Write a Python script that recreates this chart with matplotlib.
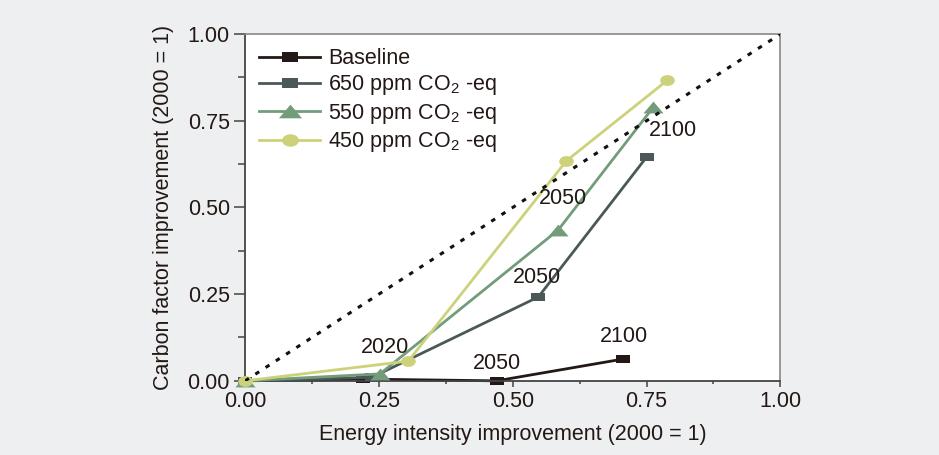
import matplotlib
matplotlib.use("Agg")
import matplotlib.pyplot as plt
import numpy as np
from matplotlib.ticker import MultipleLocator

plt.rcParams['font.family'] = ['Liberation Sans', 'DejaVu Sans']
plt.rcParams['mathtext.fontset'] = 'custom'
plt.rcParams['mathtext.rm'] = 'Liberation Sans'
plt.rcParams['mathtext.it'] = 'Liberation Sans'

series_names = ["Baseline", "650 ppm CO$_2$ -eq", "550 ppm CO$_2$ -eq", "450 ppm CO$_2$ -eq"]
baseline_x = [0.0, 0.22, 0.47, 0.707]
baseline_y = [0.0, 0.005, 0.0, 0.063]
ppm650_x = [0.0, 0.237, 0.548, 0.75]
ppm650_y = [0.0, 0.01, 0.242, 0.645]
ppm550_x = [0.0, 0.252, 0.585, 0.763]
ppm550_y = [0.0, 0.02, 0.435, 0.79]
ppm450_x = [0.0, 0.305, 0.60, 0.789]
ppm450_y = [0.0, 0.057, 0.634, 0.867]

colors = ["#231815", "#4a5857", "#729c7a", "#cdd27a"]

year_labels = ["2020", "2050", "2100", "2050", "2050", "2100"]
year_label_x = [0.261, 0.471, 0.707, 0.546, 0.594, 0.80]
year_label_y = [0.095, 0.05, 0.127, 0.297, 0.527, 0.723]

ticks = [0.0, 0.25, 0.5, 0.75, 1.0]
tick_labels = ["0.00", "0.25", "0.50", "0.75", "1.00"]

# wide (flattened) marker shapes as in the reference
rect_marker = [(-1.6, -1.0), (1.6, -1.0), (1.6, 1.0), (-1.6, 1.0), (-1.6, -1.0)]
tri_marker = [(-1.7, -1.0), (1.7, -1.0), (0.0, 1.0), (-1.7, -1.0)]
_t = np.linspace(0, 2 * np.pi, 41)
ell_marker = list(zip(1.35 * np.cos(_t), np.sin(_t)))
markers = [rect_marker, rect_marker, tri_marker, ell_marker]
msizes = [10, 10, 14.5, 10.5]

FS = 15.5

fig = plt.figure(figsize=(9.39, 4.55), dpi=100)
fig.patch.set_facecolor("#eeeff1")
ax = fig.add_axes([0.261, 0.163, 0.57, 0.762])
ax.set_facecolor("white")

ax.plot([0, 1], [0, 1], linestyle=(0, (1.5, 2.5)), color="#111111", lw=2.2, zorder=10)

data = [(baseline_x, baseline_y), (ppm650_x, ppm650_y), (ppm550_x, ppm550_y), (ppm450_x, ppm450_y)]
handles = {}
for i in range(4):
    xs, ys = data[i]
    h, = ax.plot(xs, ys, color=colors[i], marker=markers[i], markersize=msizes[i], lw=2,
                 markeredgewidth=0, label=series_names[i], zorder=2 + i, clip_on=False)
    handles[i] = h

for t, x, y in zip(year_labels, year_label_x, year_label_y):
    ax.text(x, y, t, ha="center", va="center", fontsize=FS, color="#231815", zorder=12)

ax.set_xlim(0, 1)
ax.set_ylim(0, 1)
ax.set_xticks(ticks)
ax.set_xticklabels(tick_labels)
ax.set_yticks(ticks)
ax.set_yticklabels(tick_labels)
ax.xaxis.set_minor_locator(MultipleLocator(0.125))
ax.yaxis.set_minor_locator(MultipleLocator(0.125))
ax.tick_params(axis="x", which="major", direction="out", length=4, width=1.1, color="#444444", pad=3)
ax.tick_params(axis="x", which="minor", direction="out", length=2.5, width=1.1, color="#444444")
ax.tick_params(axis="y", which="major", direction="out", length=8, width=1.1, color="#444444", pad=3)
ax.tick_params(axis="y", which="minor", direction="out", length=5, width=1.1, color="#444444")
ax.tick_params(which="both", labelsize=FS, labelcolor="#231815")
for s in ["left", "bottom"]:
    ax.spines[s].set_color("#444444")
    ax.spines[s].set_linewidth(1.3)
for s in ["top", "right"]:
    ax.spines[s].set_color("#888888")
    ax.spines[s].set_linewidth(1.2)

ax.set_xlabel("Energy intensity improvement (2000 = 1)", fontsize=FS, color="#231815", labelpad=9)
ax.set_ylabel("Carbon factor improvement (2000 = 1)", fontsize=FS, color="#231815", labelpad=10)

leg = ax.legend([handles[i] for i in range(4)], series_names, loc="upper left", frameon=False,
                fontsize=FS, handlelength=2.85, labelspacing=0.2, borderaxespad=0.35,
                handletextpad=0.35, borderpad=0.3, markerscale=1.15)
leg.set_zorder(20)
for t in leg.get_texts():
    t.set_color("#231815")

fig.savefig("out.png", dpi=100, facecolor=fig.get_facecolor())
